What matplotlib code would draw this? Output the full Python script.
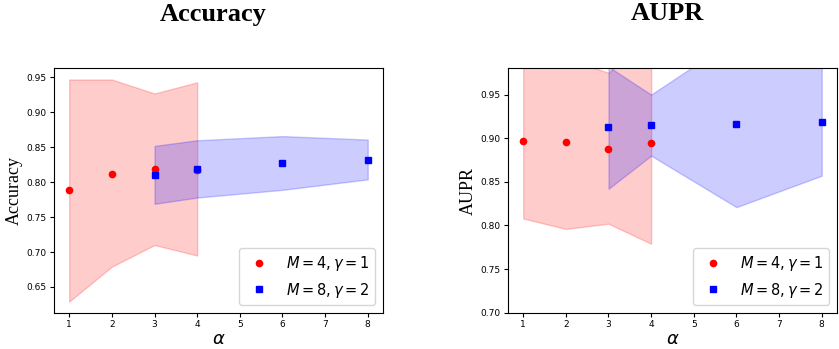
import numpy as np
import matplotlib
matplotlib.use("Agg")
import matplotlib.pyplot as plt

# data
alpha_a = [1, 2, 3, 4]
alpha_b = [3, 4, 6, 8]

acc_a = [0.789, 0.812, 0.819, 0.818]
acc_a_lo = [0.629, 0.679, 0.710, 0.695]
acc_a_hi = [0.947, 0.947, 0.927, 0.943]
acc_b = [0.810, 0.819, 0.828, 0.832]
acc_b_lo = [0.769, 0.778, 0.789, 0.804]
acc_b_hi = [0.852, 0.860, 0.866, 0.861]

aupr_a = [0.897, 0.896, 0.888, 0.894]
aupr_a_lo = [0.808, 0.796, 0.802, 0.779]
aupr_a_hi = [0.990, 0.991, 0.975, 1.017]
aupr_b = [0.913, 0.915, 0.916, 0.918]
aupr_b_lo = [0.842, 0.880, 0.821, 0.857]
aupr_b_hi = [0.982, 0.950, 1.015, 1.010]

labels = [r"$M=4, \gamma=1$", r"$M=8, \gamma=2$"]

fig = plt.figure(figsize=(8.39, 3.49), dpi=100)
ax1 = fig.add_axes([0.0647, 0.104, 0.3914, 0.700])
ax2 = fig.add_axes([0.6058, 0.104, 0.3914, 0.700])


def panel(ax, ya, lo_a, hi_a, yb, lo_b, hi_b, name):
    ax.fill_between(alpha_a, lo_a, hi_a, color="red", alpha=0.2)
    ax.fill_between(alpha_b, lo_b, hi_b, color="blue", alpha=0.2)
    ax.plot(alpha_a, ya, "o", color="red", markersize=4.5, label=labels[0])
    ax.plot(alpha_b, yb, "s", color="blue", markersize=4.5, label=labels[1])
    ax.set_xlabel(r"$\alpha$", fontsize=13, labelpad=1)
    ax.set_ylabel(name, fontsize=13, family="Liberation Serif")
    ax.yaxis.set_label_coords(-0.095, 0.5)
    ax.tick_params(labelsize=6.5, pad=2.5, length=2.8)
    ax.legend(loc="lower right", fontsize=10.5)


panel(ax1, acc_a, acc_a_lo, acc_a_hi, acc_b, acc_b_lo, acc_b_hi, "Accuracy")
panel(ax2, aupr_a, aupr_a_lo, aupr_a_hi, aupr_b, aupr_b_lo, aupr_b_hi, "AUPR")
ax2.set_ylim(0.70, 0.98)

fig.text(213 / 839, 1 - 14 / 349, "Accuracy", ha="center", va="center",
         fontsize=19, fontweight="bold", family="Liberation Serif")
fig.text(667 / 839, 1 - 14 / 349, "AUPR", ha="center", va="center",
         fontsize=19, fontweight="bold", family="Liberation Serif")

fig.savefig("out.png", dpi=100)
